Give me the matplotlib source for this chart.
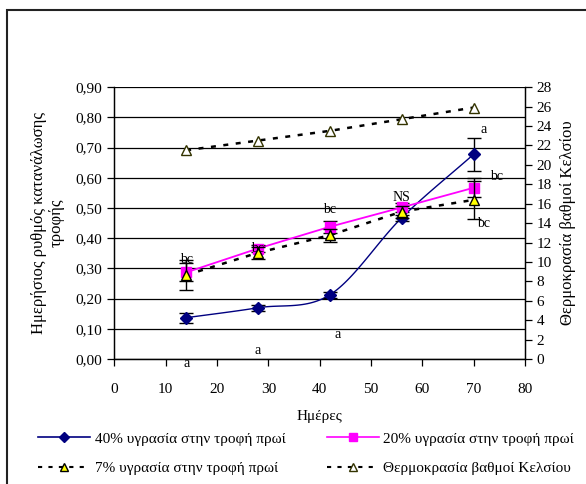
import numpy as np
import matplotlib.pyplot as plt
from matplotlib.ticker import FuncFormatter, MultipleLocator
from matplotlib.lines import Line2D
from matplotlib.patches import Rectangle

plt.rcParams['font.family'] = ['Liberation Serif', 'DejaVu Serif']

# Days of measurement
days = [14, 28, 42, 56, 70]

# Daily feed intake rate per feed moisture level
rate_40 = [0.137, 0.170, 0.213, 0.468, 0.678]
err_40 = [0.016, 0.010, 0.010, 0.010, 0.054]
rate_20 = [0.287, 0.366, 0.438, 0.502, 0.567]
err_20 = [0.030, 0.012, 0.020, 0.015, 0.032]
rate_7 = [0.278, 0.352, 0.410, 0.488, 0.527]
err_7 = [0.050, 0.020, 0.022, 0.020, 0.062]

# Water temperature (right axis)
temperature = [21.5, 22.5, 23.5, 24.7, 25.9]

# Significance letters: (day, value, text)
sig_x = [14, 14, 28, 28, 42, 43.5, 56, 72, 74.5, 72]
sig_y = [0.330, -0.015, 0.365, 0.030, 0.495, 0.082, 0.535, 0.760, 0.605, 0.450]
sig_text = ['bc', 'a', 'bc', 'a', 'bc', 'a', 'NS', 'a', 'bc', 'bc']

labels = ['40% υγρασία στην τροφή πρωί', '7% υγρασία στην τροφή πρωί',
          '20% υγρασία στην τροφή πρωί', 'Θερμοκρασία βαθμοί Κελσίου']


def smooth(x, y, n=30):
    # Catmull-Rom spline through the points (like a smoothed line)
    x = np.asarray(x, float)
    y = np.asarray(y, float)
    px = np.concatenate([[2 * x[0] - x[1]], x, [2 * x[-1] - x[-2]]])
    py = np.concatenate([[2 * y[0] - y[1]], y, [2 * y[-1] - y[-2]]])
    xs, ys = [], []
    t = np.linspace(0, 1, n)
    for i in range(1, len(px) - 2):
        for arr, out in ((px, xs), (py, ys)):
            p0, p1, p2, p3 = arr[i - 1], arr[i], arr[i + 1], arr[i + 2]
            out.append(0.5 * ((2 * p1) + (-p0 + p2) * t
                              + (2 * p0 - 5 * p1 + 4 * p2 - p3) * t ** 2
                              + (-p0 + 3 * p1 - 3 * p2 + p3) * t ** 3))
    return np.concatenate(xs), np.concatenate(ys)


fig = plt.figure(figsize=(5.86, 4.84), dpi=100)
ax = fig.add_axes([0.195, 0.258, 0.701, 0.562])
ax2 = ax.twinx()

fs = 11
navy = '#000080'
pink = '#ff00ff'

# gridlines
ax.set_axisbelow(True)
ax.yaxis.grid(True, color='black', linewidth=0.9)

# 40 % - smoothed line
sx, sy = smooth(days, rate_40)
ax.plot(sx, sy, color=navy, linewidth=1.0, zorder=3)
ax.errorbar(days, rate_40, yerr=err_40, fmt='D', color=navy, markersize=6,
            ecolor='black', elinewidth=1, capsize=5, zorder=4)

# 20 %
ax.plot(days, rate_20, color=pink, linewidth=1.3, zorder=3)
ax.errorbar(days, rate_20, yerr=err_20, fmt='s', color=pink, markersize=7,
            ecolor='black', elinewidth=1, capsize=5, zorder=4)

# 7 %
ax.plot(days, rate_7, color='black', linestyle=(0, (2, 3)), linewidth=1.8, zorder=3)
ax.errorbar(days, rate_7, yerr=err_7, fmt='^', markerfacecolor='yellow',
            markeredgecolor='black', markersize=7, ecolor='black',
            elinewidth=1, capsize=5, zorder=5)

# temperature on right axis
ax2.plot(days, temperature, color='black', linestyle=(0, (2, 3)), linewidth=1.8,
         marker='^', markerfacecolor='white', markeredgecolor='#333300',
         markersize=7, zorder=3)

for x, y, s in zip(sig_x, sig_y, sig_text):
    ax.text(x, y, s, fontsize=10, ha='center', va='center', zorder=6)

ax.set_xlim(0, 80)
ax.set_ylim(0, 0.9)
ax2.set_ylim(0, 28)
ax.xaxis.set_major_locator(MultipleLocator(10))
ax.yaxis.set_major_locator(MultipleLocator(0.1))
ax2.yaxis.set_major_locator(MultipleLocator(2))
ax.yaxis.set_major_formatter(FuncFormatter(lambda v, p: f'{v:.2f}'.replace('.', ',')))

for a in (ax, ax2):
    a.tick_params(direction='out', length=5, width=0.9, labelsize=fs, colors='black')
    a.spines['top'].set_visible(False)
    for side in ('left', 'right', 'bottom'):
        a.spines[side].set_linewidth(0.9)
ax.tick_params(axis='x', pad=12)

ax.set_xlabel('Ημέρες', fontsize=fs, labelpad=10)
ax.set_ylabel('Ημερήσιος ρυθμός κατανάλωσης\nτροφής', fontsize=fs + 1,
              linespacing=1.1, labelpad=8)
ax2.set_ylabel('Θερμοκρασία βαθμοί Κελσίου', fontsize=fs + 1, labelpad=6)

h40 = Line2D([], [], color=navy, marker='D', markersize=5, linewidth=1.2)
h20 = Line2D([], [], color=pink, marker='s', markersize=6, linewidth=1.2)
h7 = Line2D([], [], color='black', linestyle=(0, (2, 3)), linewidth=1.5, marker='^',
            markerfacecolor='yellow', markeredgecolor='black', markersize=6)
ht = Line2D([], [], color='black', linestyle=(0, (2, 3)), linewidth=1.5, marker='^',
            markerfacecolor='white', markeredgecolor='#333300', markersize=6)
fig.legend([h40, h7, h20, ht], labels, ncol=2, loc='upper left',
           bbox_to_anchor=(0.055, 0.12), frameon=False, fontsize=fs,
           handlelength=3.4, handletextpad=0.3, columnspacing=2.7,
           labelspacing=1.05, borderaxespad=0)

# outer frame of the chart area
fig.patches.append(Rectangle((7 / 586, -0.05), 1.1, 1.05 - 10 / 484,
                             transform=fig.transFigure, fill=False,
                             edgecolor='#222222', linewidth=1.5))

fig.savefig('out.png', dpi=100)
